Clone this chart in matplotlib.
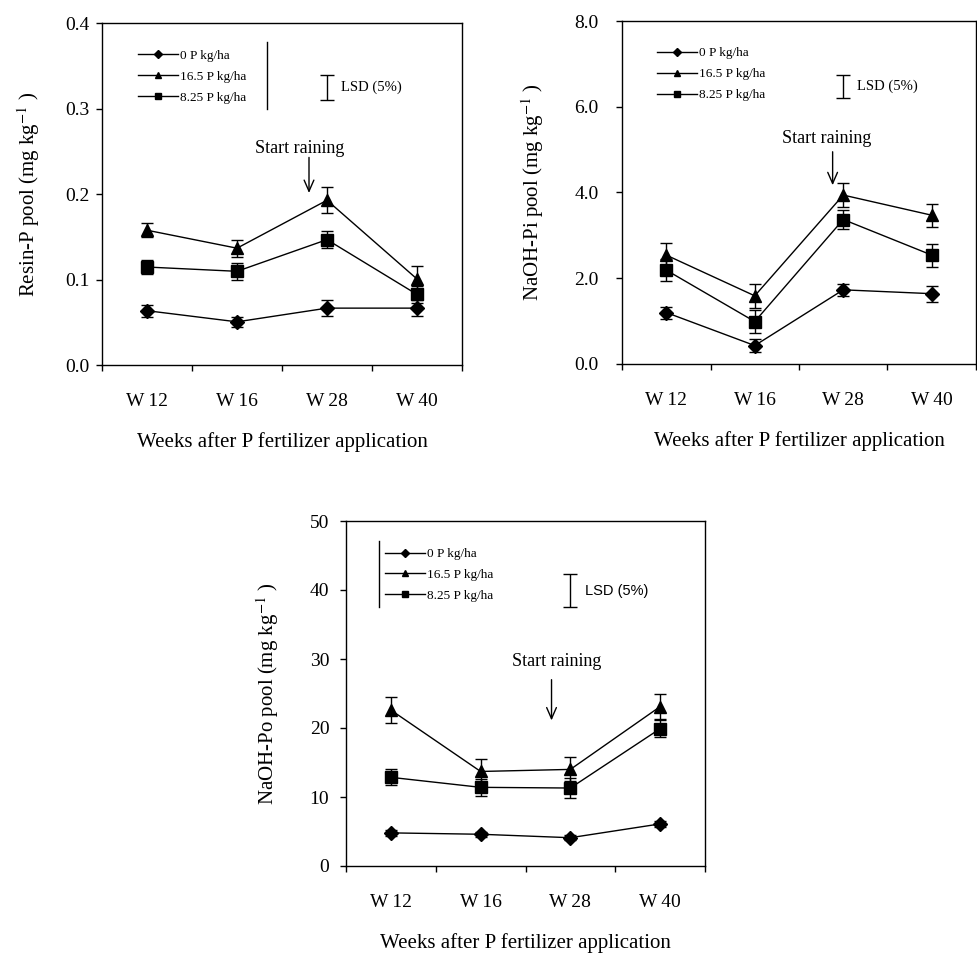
import matplotlib
matplotlib.use("Agg")
import matplotlib.pyplot as plt
from matplotlib.lines import Line2D

plt.rcParams['font.family'] = ['Liberation Serif', 'DejaVu Serif']
plt.rcParams['mathtext.fontset'] = 'stix'

# Datos
semanas = ['W\u200912', 'W\u200916', 'W\u200928', 'W\u200940']
dosis = ['0 P kg/ha', '16.5 P kg/ha', '8.25 P kg/ha']
marcadores = ['D', '^', 's']

resin_0 = [0.064, 0.051, 0.067, 0.067]
resin_0_err = [0.007, 0.006, 0.009, 0.009]
resin_165 = [0.158, 0.137, 0.193, 0.101]
resin_165_err = [0.008, 0.010, 0.015, 0.015]
resin_825 = [0.115, 0.110, 0.147, 0.083]
resin_825_err = [0.008, 0.010, 0.010, 0.010]

pi_0 = [1.20, 0.43, 1.73, 1.64]
pi_0_err = [0.14, 0.16, 0.14, 0.19]
pi_165 = [2.54, 1.59, 3.94, 3.47]
pi_165_err = [0.29, 0.28, 0.27, 0.27]
pi_825 = [2.19, 0.99, 3.37, 2.54]
pi_825_err = [0.25, 0.26, 0.23, 0.27]

po_0 = [4.8, 4.6, 4.1, 6.1]
po_0_err = [0.4, 0.4, 0.4, 0.4]
po_165 = [22.6, 13.7, 14.0, 23.1]
po_165_err = [1.9, 1.8, 1.75, 1.8]
po_825 = [12.85, 11.4, 11.3, 19.9]
po_825_err = [1.15, 1.2, 1.45, 1.2]

# LSD (5%) de cada panel
lsd_resin = 0.029
lsd_pi = 0.52
lsd_po = 4.8

xlabel = 'Weeks after P fertilizer application'


def dibujar_panel(ax, series, errores, ymax, paso, fmt, ylabel, lsd, lsd_y, texto_lluvia,
                  flecha, leg_pos, linea_vertical, lsd_familia, ytick_pad, ylabel_pad):
    x = [i + 0.5 for i in range(len(semanas))]
    for vals, errs, m in zip(series, errores, marcadores):
        ms = 7 if m == 'D' else 9
        ax.errorbar(x, vals, yerr=errs, color='black', marker=m, markersize=ms,
                    lw=1.0, elinewidth=1.0, capsize=4.5, capthick=1.0)

    ax.set_xlim(0, 4)
    ax.set_ylim(0, ymax)
    yt = [paso * i for i in range(int(round(ymax / paso)) + 1)]
    ax.set_yticks(yt)
    ax.set_yticklabels([fmt.format(v) for v in yt])
    ax.set_xticks(range(5))
    ax.set_xticklabels([])
    ax.set_xticks(x, minor=True)
    ax.set_xticklabels(semanas, minor=True)
    ax.tick_params(axis='x', which='minor', length=0, pad=20, labelsize=14)
    ax.tick_params(axis='both', which='major', direction='out', length=4, width=1,
                   labelsize=14)
    ax.tick_params(axis='y', pad=ytick_pad)
    for s in ax.spines.values():
        s.set_linewidth(1.0)

    ax.set_xlabel(xlabel, fontsize=15, labelpad=16)
    ax.set_ylabel(ylabel, fontsize=15, labelpad=ylabel_pad)

    # LSD
    ax.errorbar([2.5], [lsd_y], yerr=[lsd / 2], color='black', lw=0, elinewidth=1.0,
                capsize=5, capthick=1.0)
    ax.text(2.66, lsd_y, 'LSD (5%)', fontsize=10.5, va='center', ha='left',
            family=lsd_familia)

    # Flecha "Start raining"
    ax.text(texto_lluvia[0], texto_lluvia[1], 'Start raining', fontsize=13,
            ha='center', va='center')
    ax.annotate('', xy=(flecha[0], flecha[2]), xytext=(flecha[0], flecha[1]),
                arrowprops=dict(arrowstyle='->,head_length=0.8,head_width=0.35',
                                color='black', lw=1.0, shrinkA=0, shrinkB=0))

    # Leyenda
    handles = [Line2D([], [], color='black', marker=m, markersize=5 if m != 'D' else 4,
                      lw=1.0) for m in marcadores]
    ax.legend(handles, dosis, loc='upper left', bbox_to_anchor=leg_pos, frameon=False,
              fontsize=9.5, handlelength=3.0, handletextpad=0.15, labelspacing=0.66,
              borderpad=0, borderaxespad=0)
    if linea_vertical is not None:
        ax.plot([linea_vertical[0]] * 2, linea_vertical[1:], color='black', lw=1.0,
                transform=ax.transAxes, clip_on=False)


fig = plt.figure(figsize=(9.78, 9.56), dpi=100)
W, H = 978.0, 956.0

ax1 = fig.add_axes([102 / W, 1 - 365.5 / H, 360 / W, 342.5 / H])
dibujar_panel(ax1, [resin_0, resin_165, resin_825],
              [resin_0_err, resin_165_err, resin_825_err],
              0.4, 0.1, '{:.1f}', 'Resin-P pool (mg kg$^{-1}$ )',
              lsd_resin, 0.3245, (2.2, 0.254), (2.3, 0.243, 0.2015),
              (0.1, 0.922), (0.457, 0.945, 0.748), 'Liberation Serif', 5, 17)

ax2 = fig.add_axes([622 / W, 1 - 364 / H, 354 / W, 343 / H])
dibujar_panel(ax2, [pi_0, pi_165, pi_825],
              [pi_0_err, pi_165_err, pi_825_err],
              8.0, 2.0, '{:.1f}', 'NaOH-Pi pool (mg kg$^{-1}$ )',
              lsd_pi, 6.47, (2.31, 5.27), (2.38, 4.95, 4.17),
              (0.1, 0.924), None, 'Liberation Serif', 13, 20)

ax3 = fig.add_axes([346 / W, 1 - 866 / H, 359 / W, 345 / H])
dibujar_panel(ax3, [po_0, po_165, po_825],
              [po_0_err, po_165_err, po_825_err],
              50, 10, '{:.0f}', 'NaOH-Po pool (mg kg$^{-1}$ )',
              lsd_po, 39.9, (2.35, 29.6), (2.29, 27.0, 21.1),
              (0.109, 0.922), (0.092, 0.943, 0.752), 'Liberation Sans', 8, 21)

fig.savefig('out.png', dpi=100, facecolor='white')
